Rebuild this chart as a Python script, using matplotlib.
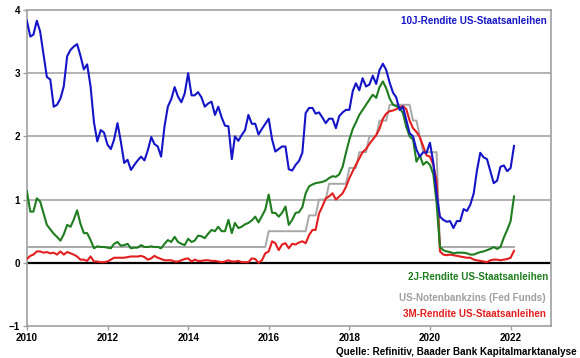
import matplotlib
matplotlib.use("Agg")
import matplotlib.pyplot as plt
import matplotlib.dates as mdates
import pandas as pd

plt.rcParams["font.family"] = ["Liberation Sans", "DejaVu Sans"]
plt.rcParams["font.weight"] = "bold"

# Monthly values, end of Dec 2009 to end of Jan 2022 (one row per year)
us10y = [3.83,
         3.58, 3.61, 3.83, 3.66, 3.30, 2.94, 2.90, 2.47, 2.50, 2.60, 2.79, 3.27,
         3.37, 3.42, 3.46, 3.28, 3.06, 3.14, 2.79, 2.22, 1.92, 2.10, 2.06, 1.87,
         1.80, 1.95, 2.21, 1.92, 1.58, 1.63, 1.47, 1.55, 1.62, 1.68, 1.62, 1.78,
         1.99, 1.88, 1.84, 1.68, 2.16, 2.47, 2.59, 2.78, 2.63, 2.54, 2.68, 3.00,
         2.65, 2.65, 2.70, 2.62, 2.47, 2.52, 2.55, 2.34, 2.47, 2.30, 2.17, 2.16,
         1.64, 2.00, 1.93, 2.02, 2.10, 2.34, 2.20, 2.20, 2.03, 2.12, 2.20, 2.28,
         1.95, 1.76, 1.80, 1.84, 1.84, 1.48, 1.46, 1.55, 1.61, 1.74, 2.37, 2.45,
         2.45, 2.36, 2.38, 2.30, 2.21, 2.28, 2.28, 2.13, 2.32, 2.38, 2.42, 2.42,
         2.72, 2.84, 2.73, 2.92, 2.79, 2.82, 2.96, 2.83, 3.05, 3.15, 3.05, 2.85,
         2.69, 2.62, 2.42, 2.47, 2.26, 2.05, 2.00, 1.79, 1.68, 1.75, 1.74, 1.90,
         1.58, 1.10, 0.73, 0.68, 0.65, 0.66, 0.55, 0.66, 0.66, 0.85, 0.82, 0.92,
         1.10, 1.45, 1.74, 1.67, 1.64, 1.45, 1.26, 1.30, 1.52, 1.54, 1.45, 1.50,
         1.85]

us2y = [1.13,
        0.81, 0.81, 1.02, 0.97, 0.78, 0.60, 0.53, 0.46, 0.41, 0.35, 0.45, 0.60,
        0.57, 0.68, 0.83, 0.62, 0.47, 0.47, 0.36, 0.23, 0.26, 0.25, 0.25, 0.24,
        0.23, 0.30, 0.33, 0.27, 0.28, 0.30, 0.23, 0.24, 0.24, 0.28, 0.25, 0.25,
        0.26, 0.25, 0.25, 0.23, 0.30, 0.36, 0.33, 0.41, 0.33, 0.30, 0.28, 0.38,
        0.33, 0.35, 0.43, 0.42, 0.39, 0.46, 0.52, 0.50, 0.57, 0.50, 0.50, 0.68,
        0.47, 0.63, 0.55, 0.57, 0.61, 0.63, 0.67, 0.73, 0.64, 0.74, 0.84, 1.08,
        0.79, 0.79, 0.73, 0.79, 0.89, 0.60, 0.68, 0.79, 0.80, 0.88, 1.10, 1.21,
        1.24, 1.26, 1.27, 1.28, 1.30, 1.34, 1.37, 1.36, 1.40, 1.52, 1.74, 1.95,
        2.12, 2.22, 2.34, 2.42, 2.50, 2.58, 2.66, 2.61, 2.78, 2.87, 2.76, 2.60,
        2.50, 2.48, 2.45, 2.37, 2.15, 2.00, 1.95, 1.60, 1.70, 1.55, 1.60, 1.55,
        1.40, 0.95, 0.25, 0.20, 0.18, 0.17, 0.15, 0.16, 0.16, 0.16, 0.15, 0.13,
        0.13, 0.15, 0.17, 0.18, 0.20, 0.22, 0.25, 0.22, 0.25, 0.40, 0.52, 0.66,
        1.05]

us3m = [0.06,
        0.11, 0.13, 0.18, 0.18, 0.16, 0.17, 0.15, 0.16, 0.13, 0.18, 0.13, 0.17,
        0.15, 0.13, 0.10, 0.05, 0.05, 0.03, 0.10, 0.02, 0.02, 0.01, 0.01, 0.02,
        0.05, 0.08, 0.08, 0.08, 0.08, 0.09, 0.10, 0.10, 0.10, 0.11, 0.09, 0.05,
        0.07, 0.11, 0.08, 0.06, 0.04, 0.04, 0.04, 0.02, 0.02, 0.04, 0.06, 0.07,
        0.02, 0.05, 0.03, 0.03, 0.04, 0.04, 0.03, 0.03, 0.02, 0.01, 0.02, 0.04,
        0.02, 0.02, 0.03, 0.01, 0.01, 0.01, 0.07, 0.06, 0.00, 0.04, 0.15, 0.18,
        0.34, 0.31, 0.20, 0.29, 0.31, 0.23, 0.30, 0.29, 0.32, 0.34, 0.31, 0.44,
        0.52, 0.52, 0.78, 0.89, 1.02, 1.05, 1.10, 1.00, 1.05, 1.10, 1.20, 1.34,
        1.45, 1.55, 1.65, 1.75, 1.80, 1.88, 1.95, 2.02, 2.12, 2.28, 2.36, 2.40,
        2.41, 2.43, 2.46, 2.48, 2.43, 2.25, 2.13, 2.07, 1.99, 1.84, 1.70, 1.68,
        1.55, 1.30, 0.18, 0.13, 0.12, 0.13, 0.12, 0.11, 0.10, 0.09, 0.08, 0.08,
        0.05, 0.04, 0.03, 0.02, 0.01, 0.04, 0.05, 0.05, 0.04, 0.05, 0.06, 0.08,
        0.19]

fed_funds = [0.25,
             0.25, 0.25, 0.25, 0.25, 0.25, 0.25, 0.25, 0.25, 0.25, 0.25, 0.25, 0.25,
             0.25, 0.25, 0.25, 0.25, 0.25, 0.25, 0.25, 0.25, 0.25, 0.25, 0.25, 0.25,
             0.25, 0.25, 0.25, 0.25, 0.25, 0.25, 0.25, 0.25, 0.25, 0.25, 0.25, 0.25,
             0.25, 0.25, 0.25, 0.25, 0.25, 0.25, 0.25, 0.25, 0.25, 0.25, 0.25, 0.25,
             0.25, 0.25, 0.25, 0.25, 0.25, 0.25, 0.25, 0.25, 0.25, 0.25, 0.25, 0.25,
             0.25, 0.25, 0.25, 0.25, 0.25, 0.25, 0.25, 0.25, 0.25, 0.25, 0.25, 0.50,
             0.50, 0.50, 0.50, 0.50, 0.50, 0.50, 0.50, 0.50, 0.50, 0.50, 0.50, 0.75,
             0.75, 0.75, 1.00, 1.00, 1.00, 1.25, 1.25, 1.25, 1.25, 1.25, 1.25, 1.50,
             1.50, 1.50, 1.75, 1.75, 1.75, 2.00, 2.00, 2.00, 2.25, 2.25, 2.25, 2.50,
             2.50, 2.50, 2.50, 2.50, 2.50, 2.50, 2.25, 2.25, 2.00, 1.75, 1.75, 1.75,
             1.75, 1.75, 0.25, 0.25, 0.25, 0.25, 0.25, 0.25, 0.25, 0.25, 0.25, 0.25,
             0.25, 0.25, 0.25, 0.25, 0.25, 0.25, 0.25, 0.25, 0.25, 0.25, 0.25, 0.25,
             0.25]

dates = pd.date_range("2009-12-31", periods=len(us10y), freq="ME")

c_blue = "#1414c8"
c_green = "#1e7d1e"
c_red = "#e41e1e"
c_gray = "#a8a8a8"

fig = plt.figure(figsize=(5.8, 3.58), dpi=100)
ax = fig.add_axes([27 / 580, 1 - 326 / 358, 524 / 580, 316 / 358])

# grid and zero line
for v in [1, 2, 3]:
    ax.axhline(v, color="#a6a6a6", lw=1.2, zorder=1)
ax.axhline(0, color="black", lw=1.6, zorder=2)

ax.plot(dates, fed_funds, color=c_gray, lw=1.4, zorder=3)
ax.plot(dates, us3m, color=c_red, lw=1.5, zorder=4)
ax.plot(dates, us2y, color=c_green, lw=1.5, zorder=5)
ax.plot(dates, us10y, color=c_blue, lw=1.5, zorder=6)

ax.set_ylim(-1, 4)
ax.set_yticks([-1, 0, 1, 2, 3, 4])
ax.set_xlim(pd.Timestamp("2010-01-01"), pd.Timestamp("2023-01-01"))
ax.xaxis.set_major_locator(mdates.YearLocator(2))
ax.xaxis.set_major_formatter(mdates.DateFormatter("%Y"))

for s in ax.spines.values():
    s.set_color("#a0a0a0")
    s.set_linewidth(1.2)
ax.tick_params(axis="both", colors="#a0a0a0", labelcolor="black", labelsize=7.1,
               length=3, width=1, pad=2)
for lab in ax.get_xticklabels() + ax.get_yticklabels():
    lab.set_fontweight("bold")

# series labels
ax.text(0.992, 0.965, "10J-Rendite US-Staatsanleihen", color=c_blue,
        transform=ax.transAxes, ha="right", va="center", fontsize=7.1, fontweight="bold")
ax.text(0.995, 0.156, "2J-Rendite US-Staatsanleihen", color=c_green,
        transform=ax.transAxes, ha="right", va="center", fontsize=7.1, fontweight="bold")
ax.text(0.99, 0.09, "US-Notenbankzins (Fed Funds)", color="#a0a0a0",
        transform=ax.transAxes, ha="right", va="center", fontsize=7.1, fontweight="bold")
ax.text(0.99, 0.037, "3M-Rendite US-Staatsanleihen", color=c_red,
        transform=ax.transAxes, ha="right", va="center", fontsize=7.1, fontweight="bold")

fig.text(0.995, 0.018, "Quelle: Refinitiv, Baader Bank Kapitalmarktanalyse",
         ha="right", va="center", fontsize=7.1, fontweight="bold")

fig.savefig("out.png", dpi=100)
